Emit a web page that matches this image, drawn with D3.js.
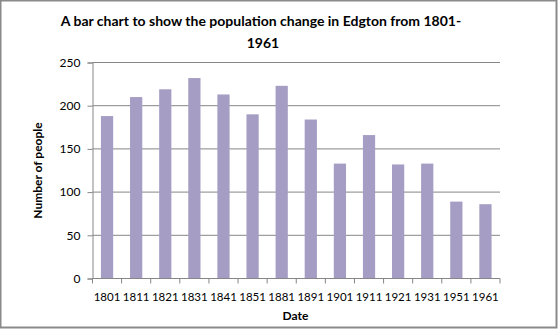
<!DOCTYPE html>
<html>
<head>
<meta charset="utf-8">
<script src="https://cdn.jsdelivr.net/npm/d3@7"></script>
<style>
  body { margin: 0; background: #fff; }
  text { font-family: Lato, "Open Sans", sans-serif; fill: #000; }
</style>
</head>
<body>
<div class="chart"></div>
<script>
var svgWidth = 558;
var svgHeight = 329;

// chart values
var dates = ["1801", "1811", "1821", "1831", "1841", "1851", "1881",
             "1891", "1901", "1911", "1921", "1931", "1951", "1961"];
var people = [188, 210, 219, 232, 213, 190, 223, 184, 133, 166, 132, 133, 89, 86];
var yTicks = [0, 50, 100, 150, 200, 250];

var margin = { top: 62.5, right: 58, bottom: 50.5, left: 92.5 };
var width = svgWidth - margin.left - margin.right;
var height = svgHeight - margin.top - margin.bottom;

var svg = d3.select(".chart")
    .append("svg")
    .attr("width", svgWidth)
    .attr("height", svgHeight);

// outer frame
svg.append("rect")
    .attr("x", 0.5).attr("y", 0.5)
    .attr("width", svgWidth - 2).attr("height", svgHeight - 2)
    .attr("fill", "#fff")
    .attr("stroke", "#8a8a8a")
    .attr("stroke-width", 2);

var chartGroup = svg.append("g")
    .attr("transform", `translate(${margin.left}, ${margin.top})`);

var xScale = d3.scaleBand()
    .domain(dates)
    .range([0, width])
    .paddingInner(0.58)
    .paddingOuter(0.29);

var yScale = d3.scaleLinear()
    .domain([0, 250])
    .range([height, 0]);

// gridlines
chartGroup.append("g")
    .selectAll("line")
    .data(yTicks.slice(1))
    .enter()
    .append("line")
    .attr("x1", 0).attr("x2", width)
    .attr("y1", d => yScale(d)).attr("y2", d => yScale(d))
    .attr("stroke", "#868686")
    .attr("stroke-width", 1);

// bars
chartGroup.selectAll("rect.bar")
    .data(people)
    .enter()
    .append("rect")
    .attr("class", "bar")
    .attr("x", (d, i) => xScale(dates[i]))
    .attr("y", d => yScale(d))
    .attr("width", xScale.bandwidth())
    .attr("height", d => height - yScale(d))
    .attr("fill", "#a59dc4");

// y axis
var leftAxis = d3.axisLeft(yScale)
    .tickValues(yTicks)
    .tickSize(5)
    .tickPadding(7);
var yAxis = chartGroup.append("g").call(leftAxis);
yAxis.selectAll("path, line").attr("stroke", "#868686");
yAxis.selectAll("text")
    .style("font-size", "12px")
    .style("font-family", "Lato, sans-serif");

// x axis with ticks at band edges
var step = xScale.step();
var xAxisG = chartGroup.append("g")
    .attr("transform", `translate(0, ${height})`);
xAxisG.append("line")
    .attr("x1", 0).attr("x2", width)
    .attr("stroke", "#868686");
xAxisG.selectAll("line.tick")
    .data(d3.range(dates.length + 1))
    .enter()
    .append("line")
    .attr("class", "tick")
    .attr("x1", i => i * step).attr("x2", i => i * step)
    .attr("y1", 0).attr("y2", 5)
    .attr("stroke", "#868686");
xAxisG.selectAll("text")
    .data(dates)
    .enter()
    .append("text")
    .attr("x", d => xScale(d) + xScale.bandwidth() / 2)
    .attr("y", 22)
    .attr("text-anchor", "middle")
    .style("font-size", "11.5px")
    .text(d => d);

// title
var title = svg.append("text")
    .attr("text-anchor", "middle")
    .style("font-size", "14px")
    .style("font-weight", "bold");
title.append("tspan").attr("x", 261).attr("y", 26)
    .text("A bar chart to show the population change in Edgton from 1801-");
title.append("tspan").attr("x", 263).attr("y", 48).text("1961");

// axis titles
chartGroup.append("text")
    .attr("transform", "rotate(-90)")
    .attr("x", 0 - height / 2)
    .attr("y", 0 - margin.left + 42)
    .attr("text-anchor", "middle")
    .style("font-size", "12px")
    .style("font-weight", "bold")
    .text("Number of people");

chartGroup.append("text")
    .attr("x", 203)
    .attr("y", height + 41)
    .attr("text-anchor", "middle")
    .style("font-size", "12px")
    .style("font-weight", "bold")
    .text("Date");
</script>
</body>
</html>
